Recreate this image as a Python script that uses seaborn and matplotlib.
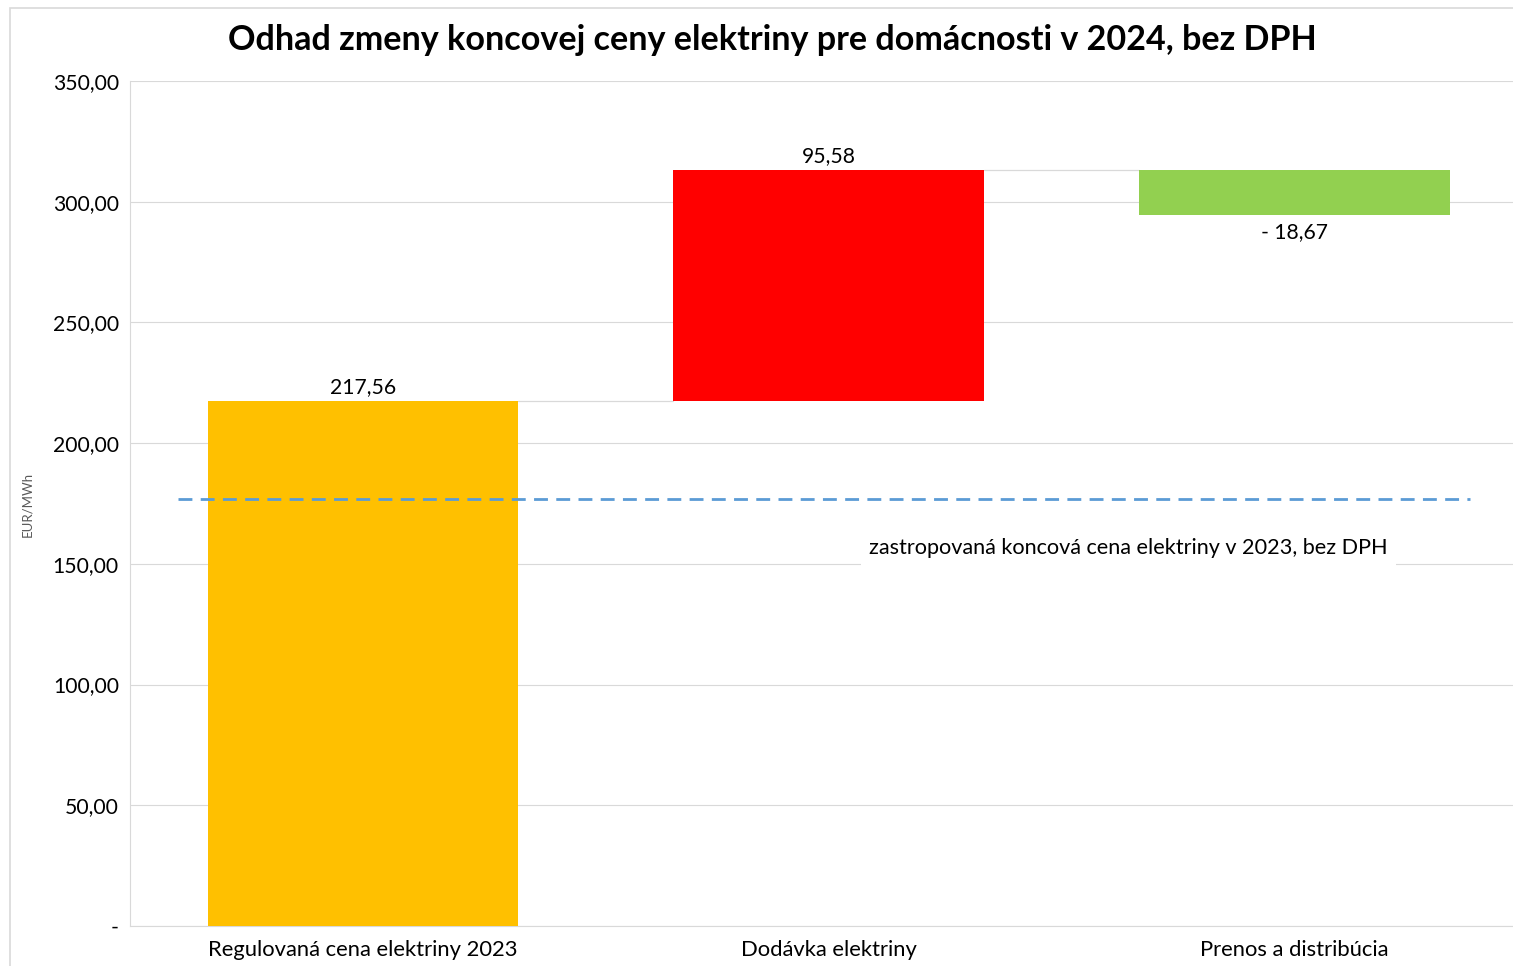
import matplotlib
matplotlib.use('Agg')
import matplotlib.pyplot as plt
import matplotlib.patches as mpatches
import numpy as np
import pandas as pd
import seaborn as sns

# data
categories = ['Regulovaná cena elektriny 2023', 'Dodávka elektriny', 'Prenos a distribúcia']
changes = [217.56, 95.58, -18.67]
bar_colors = ['#FFC000', '#FF0000', '#92D050']
cap_2023 = 176.9
cap_label = 'zastropovaná koncová cena elektriny v 2023, bez DPH'
y_ticks = [0, 50, 100, 150, 200, 250, 300, 350]

# waterfall geometry
ends = np.cumsum(changes)
starts = np.concatenate([[0], ends[:-1]])
bottoms = np.minimum(starts, ends)
heights = np.abs(changes)
df = pd.DataFrame({'kategoria': categories, 'vyska': heights, 'spodok': bottoms})

sns.set_style('white')
plt.rcParams['font.family'] = ['Lato', 'DejaVu Sans']
plt.rcParams['text.color'] = 'black'

fig = plt.figure(figsize=(15.13, 9.66), dpi=100)
ax = fig.add_axes([130 / 1513, 1 - 926 / 966, 1397.5 / 1513, 845 / 966])

bar_w = 0.667
sns.barplot(data=df, x='kategoria', y='vyska', bottom=df['spodok'].values,
            order=categories, errorbar=None, width=bar_w, color='#FFC000',
            linewidth=0, ax=ax, zorder=3)
for patch, c in zip(ax.patches, bar_colors):
    patch.set_facecolor(c)

# connectors between bars
for i in range(len(changes) - 1):
    ax.plot([i + bar_w / 2, i + 1 - bar_w / 2], [ends[i], ends[i]],
            color='#D9D9D9', lw=0.9, zorder=2)

# value labels
for i, v in enumerate(changes):
    txt = f'{abs(v):.2f}'.replace('.', ',')
    if v >= 0:
        ax.text(i, ends[i] + 1.5, txt, ha='center', va='bottom', fontsize=15.2)
    else:
        ax.text(i, ends[i] - 3, '- ' + txt, ha='center', va='top', fontsize=15.2)

# cap line
ax.plot([-0.396, 2.377], [cap_2023, cap_2023], color='#5B9BD5', lw=2.0,
        dashes=(5, 3), zorder=4)
ax.text(1.643, 156.6, cap_label, ha='center', va='center', fontsize=15.6,
        bbox=dict(facecolor='white', edgecolor='none', pad=6), zorder=5)

ax.set_xlim(-0.5, 2.5)
ax.set_ylim(0, 350)
ax.set_yticks(y_ticks)
ax.set_yticklabels(['-' if t == 0 else f'{t:.2f}'.replace('.', ',') for t in y_ticks])
ax.tick_params(axis='y', length=0, labelsize=15.2, colors='black', pad=8)
ax.tick_params(axis='x', length=0, labelsize=15.8, colors='black', pad=10)
ax.set_xlabel('')
ax.set_ylabel('')
ax.yaxis.grid(True, color='#D9D9D9', lw=0.8, zorder=0)
ax.set_axisbelow(True)
for s in ['top', 'right']:
    ax.spines[s].set_visible(False)
for s in ['left', 'bottom']:
    ax.spines[s].set_color('#D9D9D9')
    ax.spines[s].set_linewidth(0.8)

fig.text(772 / 1513, 1 - 40 / 966, 'Odhad zmeny koncovej ceny elektriny pre domácnosti v 2024, bez DPH',
         ha='center', va='center', fontsize=24.6, fontweight='bold', color='black')
fig.text(27 / 1513, 1 - 504 / 966, 'EUR/MWh', rotation=90, ha='center', va='center',
         fontsize=9.5, color='#595959')

# outer chart border
fig.patches.append(mpatches.Rectangle((10 / 1513, -0.1), 1.2, 1 - 8 / 966 + 0.1,
                                      transform=fig.transFigure, fill=False,
                                      edgecolor='#D9D9D9', lw=1.2))

fig.savefig('out.png', dpi=100)
